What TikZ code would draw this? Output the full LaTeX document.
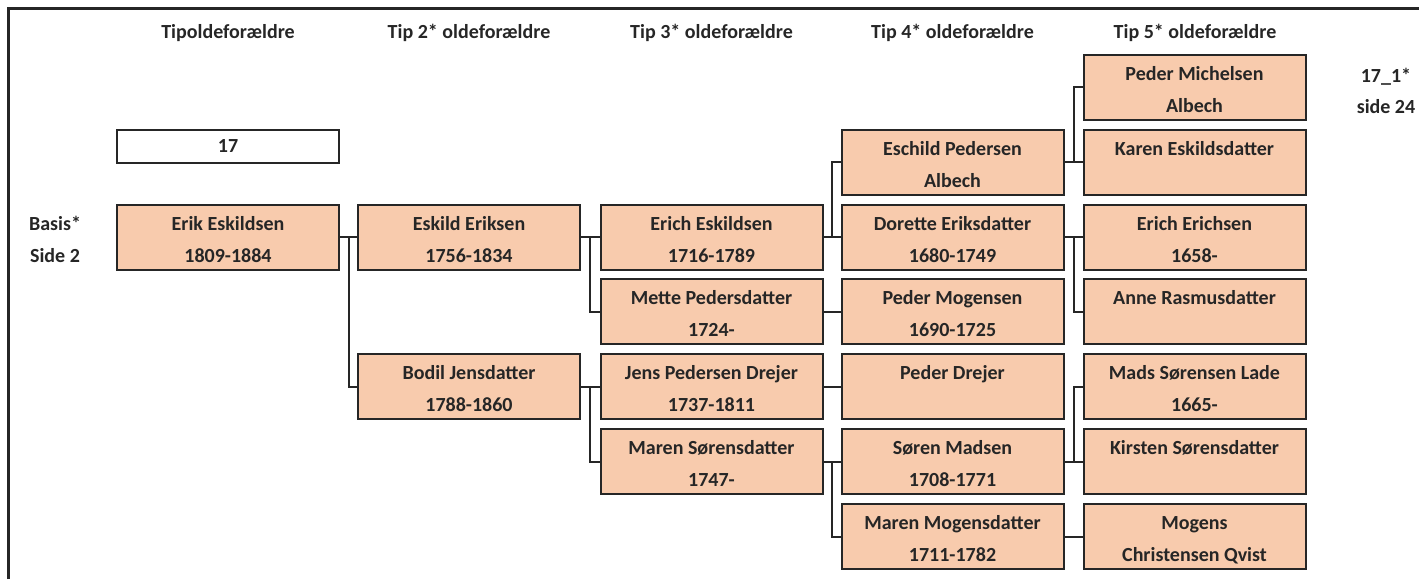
\documentclass[tikz,border=0pt]{standalone}
\usepackage{fontspec}
\setmainfont{Carlito}
\usetikzlibrary{calc}
\definecolor{peach}{RGB}{248,203,173}
\definecolor{ink}{RGB}{38,38,38}
\newcommand\twolines[2]{\rule{0pt}{20pt}#1\\#2\rule[-2pt]{0pt}{2pt}}
\tikzset{
 person/.style={draw=ink, line width=2pt, fill=peach, minimum width=222pt, minimum height=65pt, inner sep=0pt, align=center, text=ink, font=\bfseries\fontsize{20}{32}\selectfont},
 numbox/.style={person, fill=white, minimum height=33pt},
 lbl/.style={inner sep=0pt, anchor=base, text=ink, font=\bfseries\fontsize{20}{24}\selectfont},
 link/.style={draw=ink, line width=2pt},
 frameline/.style={draw=ink, line width=3pt},
}
\begin{document}
\begin{tikzpicture}[x=1pt,y=-1pt]
\useasboundingbox (0,0) rectangle (1419,579);
\draw[frameline] (8.5,579) -- (8.5,8.5) -- (1419,8.5);

% headers
\node[lbl] (h1) at (228,38) {Tipoldeforældre};
\node[lbl] (h2) at (469,38) {Tip 2* oldeforældre};
\node[lbl] (h3) at (711.5,38) {Tip 3* oldeforældre};
\node[lbl] (h4) at (952.5,38) {Tip 4* oldeforældre};
\node[lbl] (h5) at (1195,38) {Tip 5* oldeforældre};

% side labels
\node[lbl] (basis) at (55,230) {Basis*};
\node[lbl] (side2) at (55,262) {Side 2};
\node[lbl] (ref) at (1386,82) {17\_1*};
\node[lbl] (side24) at (1386,113) {side 24};

% boxes
\node[numbox] (n17) at (228,146.5) {17};
\node[person] (erik) at (228,237) {\twolines{Erik Eskildsen}{1809-1884}};

\node[person] (eskild) at (469,237) {\twolines{Eskild Eriksen}{1756-1834}};
\node[person] (bodil) at (469,386.5) {\twolines{Bodil Jensdatter}{1788-1860}};

\node[person] (erich) at (711.5,237) {\twolines{Erich Eskildsen}{1716-1789}};
\node[person] (mette) at (711.5,311.5) {\twolines{Mette Pedersdatter}{1724-}};
\node[person] (jens) at (711.5,386.5) {\twolines{Jens Pedersen Drejer}{1737-1811}};
\node[person] (marens) at (711.5,461.5) {\twolines{Maren Sørensdatter}{1747-}};

\node[person] (eschild) at (952.5,162) {\twolines{Eschild Pedersen}{Albech}};
\node[person] (dorette) at (952.5,237) {\twolines{Dorette Eriksdatter}{1680-1749}};
\node[person] (pederm) at (952.5,311.5) {\twolines{Peder Mogensen}{1690-1725}};
\node[person] (pederd) at (952.5,386.5) {\twolines{Peder Drejer}{}};
\node[person] (soren) at (952.5,461.5) {\twolines{Søren Madsen}{1708-1771}};
\node[person] (marenm) at (952.5,536.5) {\twolines{Maren Mogensdatter}{1711-1782}};

\node[person] (pmich) at (1194.5,87) {\twolines{Peder Michelsen}{Albech}};
\node[person] (karen) at (1194.5,162) {\twolines{Karen Eskildsdatter}{}};
\node[person] (erichE) at (1194.5,237) {\twolines{Erich Erichsen}{1658-}};
\node[person] (anne) at (1194.5,311.5) {\twolines{Anne Rasmusdatter}{}};
\node[person] (mads) at (1194.5,386.5) {\twolines{Mads Sørensen Lade}{1665-}};
\node[person] (kirsten) at (1194.5,461.5) {\twolines{Kirsten Sørensdatter}{}};
\node[person] (mogens) at (1194.5,536.5) {\twolines{Mogens}{Christensen Qvist}};

% connectors
\coordinate (j1) at ($(erik.east)!0.5!(eskild.west)$);
\draw[link] (erik.east) -- (eskild.west);
\draw[link] (j1) |- (bodil.west);

\coordinate (j2) at ($(eskild.east)!0.5!(erich.west)$);
\draw[link] (eskild.east) -- (erich.west);
\draw[link] (j2) |- (mette.west);

\coordinate (j3) at ($(bodil.east)!0.5!(jens.west)$);
\draw[link] (bodil.east) -- (jens.west);
\draw[link] (j3) |- (marens.west);

\coordinate (j4) at ($(erich.east)!0.5!(dorette.west)$);
\draw[link] (erich.east) -- (dorette.west);
\draw[link] (j4) |- (eschild.west);

\draw[link] (mette.east) -- (pederm.west);
\draw[link] (jens.east) -- (pederd.west);

\coordinate (j5) at ($(marens.east)!0.5!(soren.west)$);
\draw[link] (marens.east) -- (soren.west);
\draw[link] (j5) |- (marenm.west);

\coordinate (j6) at ($(eschild.east)!0.5!(karen.west)$);
\draw[link] (eschild.east) -- (karen.west);
\draw[link] (j6) |- (pmich.west);

\coordinate (j7) at ($(dorette.east)!0.5!(erichE.west)$);
\draw[link] (dorette.east) -- (erichE.west);
\draw[link] (j7) |- (anne.west);

\coordinate (j8) at ($(soren.east)!0.5!(kirsten.west)$);
\draw[link] (soren.east) -- (kirsten.west);
\draw[link] (j8) |- (mads.west);

\draw[link] (marenm.east) -- (mogens.west);
\end{tikzpicture}
\end{document}
